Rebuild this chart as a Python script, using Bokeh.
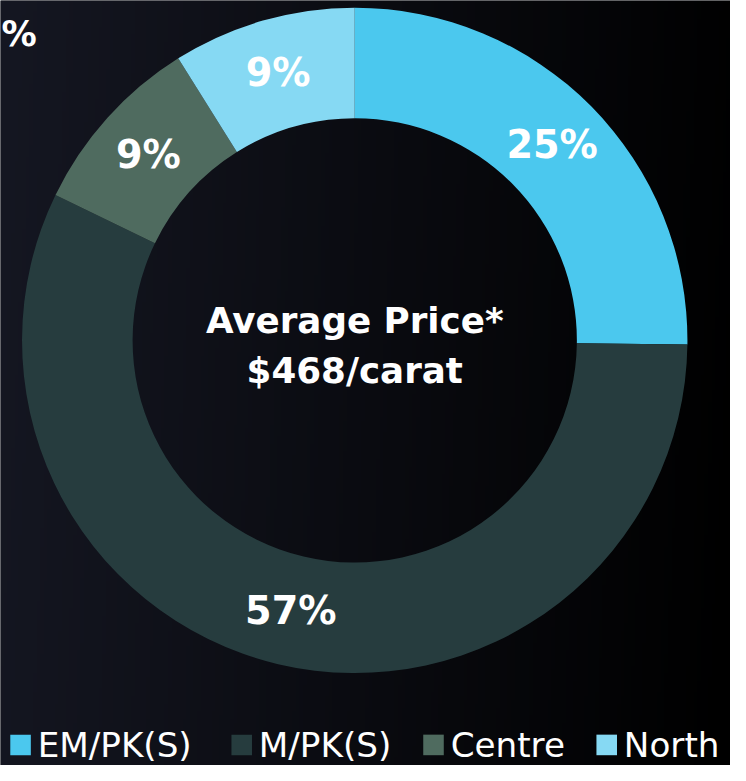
import numpy as np
from bokeh.plotting import figure
from bokeh.models import Range1d, ColumnDataSource
from bokeh.core.properties import value
from bokeh.embed import file_html
from bokeh.resources import INLINE

# data
categories = ["EM/PK(S)", "M/PK(S)", "Centre", "North"]
shares = [25.2, 57.0, 8.9, 8.9]
labels = ["25%", "57%", "9%", "9%"]
colors = ["#4BC8EE", "#263C3E", "#4F6B5F", "#86D9F3"]
center_lines = ["Average Price*", "$468/carat"]

# layout (reference-pixel coordinates, y measured from the bottom)
REF_W, REF_H = 746, 781
legend_x = [10, 236, 432, 609]
legend_y = 21
FONT = "DejaVu Sans"
S = 730 / 746  # screen px per data unit

W, H = 730, 765
p = figure(width=W, height=H, output_backend="svg", toolbar_location=None,
           x_range=Range1d(0, REF_W), y_range=Range1d(0, REF_H), min_border=0)
p.axis.visible = False
p.grid.visible = False
p.outline_line_color = None
p.background_fill_color = "#0b0c12"
p.border_fill_color = "#0b0c12"

# background gradient
nx, ny = 200, 200
gx = np.linspace(0, 1, nx)[None, :]
gy = np.linspace(0, 1, ny)[:, None]  # 0 bottom, 1 top
t = np.clip(gx * 0.95 + (1 - gy) * 0.05, 0, 1)
c0 = np.array([21, 23, 34])
c1 = np.array([0, 0, 0])
img = np.empty((ny, nx), dtype=np.uint32)
view = img.view(dtype=np.uint8).reshape((ny, nx, 4))
for k in range(3):
    view[:, :, k] = (c0[k] * (1 - t) + c1[k] * t).astype(np.uint8)
view[:, :, 3] = 255
p.image_rgba(image=[img], x=0, y=0, dw=REF_W, dh=REF_H)

cx, cy = 362, REF_H - 347
r_out, r_in = 340, 227

fr = np.array(shares) / sum(shares)
cum = np.concatenate([[0], np.cumsum(fr)])
start = np.pi / 2 - 2 * np.pi * cum[:-1]
end = np.pi / 2 - 2 * np.pi * cum[1:]
mid = (start + end) / 2
r_lab = (r_out + r_in) / 2

src = ColumnDataSource(dict(cat=categories, start=start, end=end, color=colors,
                            lx=cx + r_lab * np.cos(mid), ly=cy + r_lab * np.sin(mid),
                            lab=labels))
p.annular_wedge(x=cx, y=cy, inner_radius=r_in, outer_radius=r_out,
                start_angle="start", end_angle="end", direction="clock",
                fill_color="color", line_color=None, source=src)
p.text(x="lx", y="ly", text="lab", source=src, text_color="white",
       text_font=value(FONT), text_font_style="bold", text_font_size=f"{39*S:.1f}px",
       text_align="center", text_baseline="middle")

p.text(x=[cx, cx], y=[REF_H - 327, REF_H - 378], text=center_lines, text_color="white",
       text_font=value(FONT), text_font_style="bold", text_font_size=f"{36.5*S:.1f}px",
       text_align="center", text_baseline="middle")

# fragment of a neighbouring label at the top-left edge
p.text(x=[1], y=[REF_H - 34], text=["%"], text_color="white",
       text_font=value(FONT), text_font_style="bold", text_font_size=f"{36*S:.1f}px",
       text_align="left", text_baseline="middle")

# legend
lsrc = ColumnDataSource(dict(x=np.array(legend_x) + 10.5, tx=np.array(legend_x) + 28,
                             y=[legend_y] * 4, cat=categories, color=colors))
p.rect(x="x", y="y", width=21, height=21, fill_color="color", line_color=None, source=lsrc)
p.text(x="tx", y="y", text="cat", source=lsrc, text_color="white",
       text_font=value(FONT), text_font_size=f"{35*S:.1f}px",
       text_align="left", text_baseline="middle")

open("out.html", "w").write(file_html(p, INLINE))
